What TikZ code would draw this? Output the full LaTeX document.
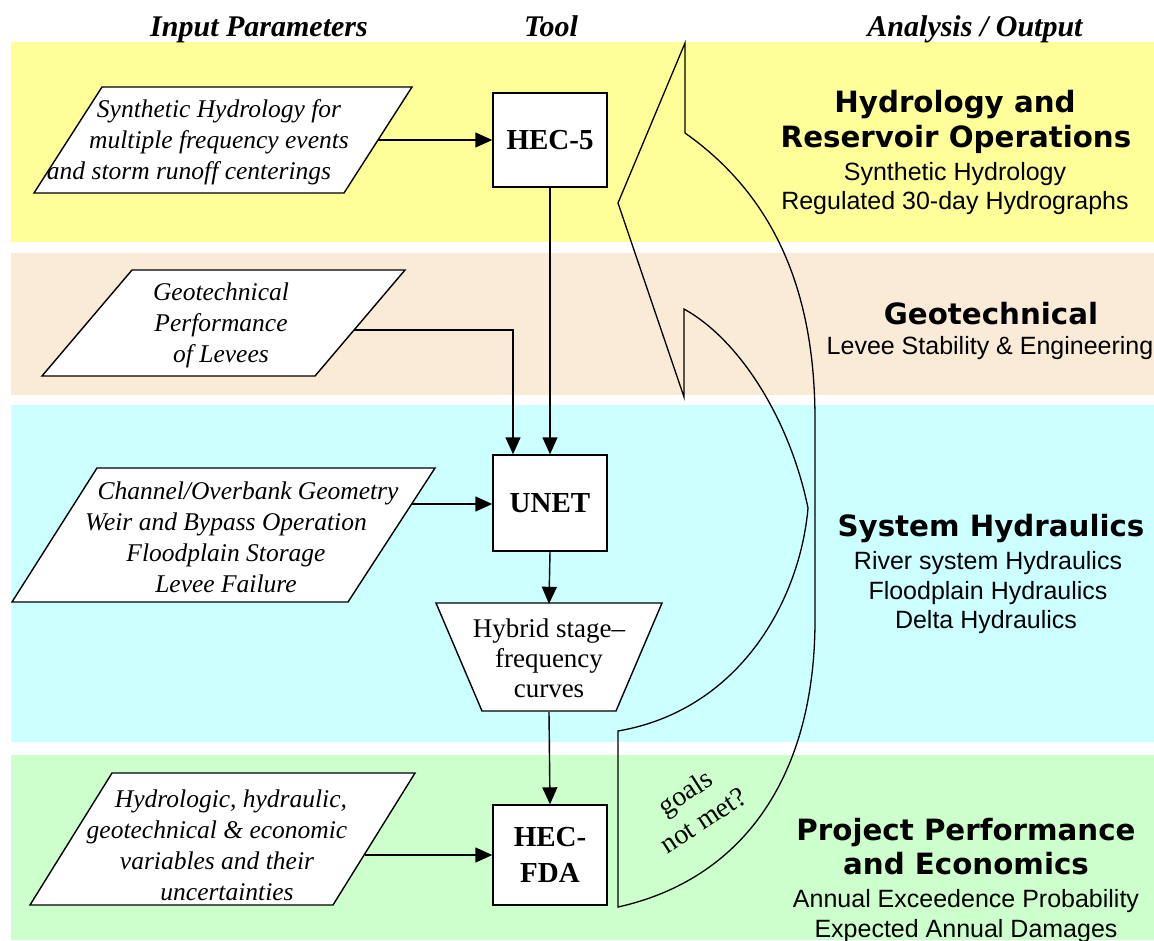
\documentclass[tikz,border=0pt]{standalone}
\usepackage{fontspec}
\setmainfont{Liberation Serif}
\newfontfamily\arialf{Liberation Sans}
\newfontfamily\heavyf{DejaVu Sans}
\usetikzlibrary{arrows.meta,calc}
\definecolor{bandY}{RGB}{255,255,153}
\definecolor{bandP}{RGB}{250,235,215}
\definecolor{bandC}{RGB}{204,255,255}
\definecolor{bandG}{RGB}{204,255,204}
\begin{document}
\begin{tikzpicture}[x=1pt,y=-1pt,
  inshape/.style={draw=black, line width=1.4pt, fill=white, line join=miter},
  intext/.style={font=\fontsize{25.5}{31}\selectfont\itshape, align=center, inner sep=0pt},
  toolbox/.style={draw=black, line width=1.4pt, fill=white, minimum width=114pt, inner sep=0pt, font=\fontsize{29}{36}\selectfont\bfseries, align=center},
  conn/.style={line width=1.4pt, -{Triangle[length=17pt,width=15pt]}},
  hdr/.style={font=\fontsize{30}{30}\selectfont\bfseries\itshape, anchor=base, inner sep=0pt},
  ttl/.style={font=\heavyf\fontsize{29.3}{35}\selectfont\bfseries, anchor=base, inner sep=0pt},
  subt/.style={font=\arialf\fontsize{25}{29}\selectfont, anchor=base, inner sep=0pt},
]
\useasboundingbox (0,0) rectangle (1154,940);
% bands
\fill[bandY] (11,42) rectangle (1154,242);
\fill[bandP] (11,253) rectangle (1154,395);
\fill[bandC] (11,405) rectangle (1154,742);
\fill[bandG] (11,755) rectangle (1154,940);
% headers
\node[hdr] (h1) at (259,36) {Input Parameters};
\node[hdr] (h2) at (551,36) {Tool};
\node[hdr] (h3) at (975,36) {Analysis / Output};
% input parallelograms
\draw[inshape] (102,87) -- (412,87) -- (344,193) -- (34,193) -- cycle;
\node[intext] (p1) at (219,142) {Synthetic Hydrology for\\multiple frequency events\\and storm runoff centerings\hspace*{60pt}};
\coordinate (p1out) at (378,140);
\draw[inshape] (132,270) -- (405,270) -- (315,376) -- (42,376) -- cycle;
\node[intext] (p2) at (221,325) {Geotechnical\\Performance\\of Levees};
\coordinate (p2out) at (354,330);
\draw[inshape] (97,468) -- (435,468) -- (348,602) -- (12,602) -- cycle;
\node[intext] (p3) at (226,537) {\hspace*{44pt}Channel/Overbank Geometry\\Weir and Bypass Operation\\Floodplain Storage\\Levee Failure};
\coordinate (p3out) at (412,504);
\draw[inshape] (112,773) -- (415,773) -- (333,905) -- (30,905) -- cycle;
\node[intext] (p4) at (217,845) {\hspace*{28pt}Hydrologic, hydraulic,\\geotechnical \& economic\\variables and their\\\hspace*{20pt}uncertainties};
\coordinate (p4out) at (365,855);
% tools
\node[toolbox, minimum height=94pt] (hec5) at (550,140) {HEC-5};
\node[toolbox, minimum height=96pt] (unet) at (550,503) {UNET};
\node[toolbox, minimum height=100pt] (fda) at (550,855) {HEC-\\FDA};
% trapezoid
\draw[inshape] (436,603) -- (662,603) -- (616,711) -- (482,711) -- cycle;
\node[font=\fontsize{27}{30}\selectfont, align=center, inner sep=0pt, minimum height=108pt] (hyb) at (549,658) {Hybrid stage--\\frequency\\curves};
% connectors
\draw[conn] (p1out) -- (hec5.west |- p1out);
\draw[conn] (hec5.south) -- (unet.north);
\draw[conn] (p2out) -| ($(unet.north)+(-37,0)$);
\draw[conn] (p3out) -- (unet.west |- p3out);
\draw[conn] (unet.south) -- (hyb.north);
\draw[conn] (hyb.south) -- (fda.north);
\draw[conn] (p4out) -- (fda.west |- p4out);
% feedback curved arrow
\draw[line width=1.3pt, line join=miter] (618,203) -- (685,43) -- (685,133)
  .. controls (780,200) and (815,300) .. (815,420)
  -- (815,620)
  .. controls (815,780) and (740,880) .. (618,907)
  -- (618,731)
  .. controls (740,710) and (800,600) .. (808,508)
  .. controls (790,420) and (740,340) .. (684,309)
  -- (684,397) -- cycle;
\node[font=\fontsize{28}{33}\selectfont, align=center, rotate=33, inner sep=0pt] (goals) at (694,806) {goals\\not met?};
% right side texts
\node[ttl] (t1a) at (955,112) {Hydrology and};
\node[ttl] (t1b) at (956,147) {Reservoir Operations};
\node[subt] (s1a) at (955,180) {Synthetic Hydrology};
\node[subt] (s1b) at (955,209) {Regulated 30-day Hydrographs};
\node[ttl] (t2a) at (991,324) {Geotechnical};
\node[subt] (s2a) at (990,354) {Levee Stability \& Engineering};
\node[ttl] (t3a) at (991,536) {System Hydraulics};
\node[subt] (s3a) at (988,569) {River system Hydraulics};
\node[subt] (s3b) at (988,599) {Floodplain Hydraulics};
\node[subt] (s3c) at (986,628) {Delta Hydraulics};
\node[ttl] (t4a) at (966,840) {Project Performance};
\node[ttl] (t4b) at (966,874) {and Economics};
\node[subt] (s4a) at (966,907) {Annual Exceedence Probability};
\node[subt] (s4b) at (966,937) {Expected Annual Damages};
\end{tikzpicture}
\end{document}
